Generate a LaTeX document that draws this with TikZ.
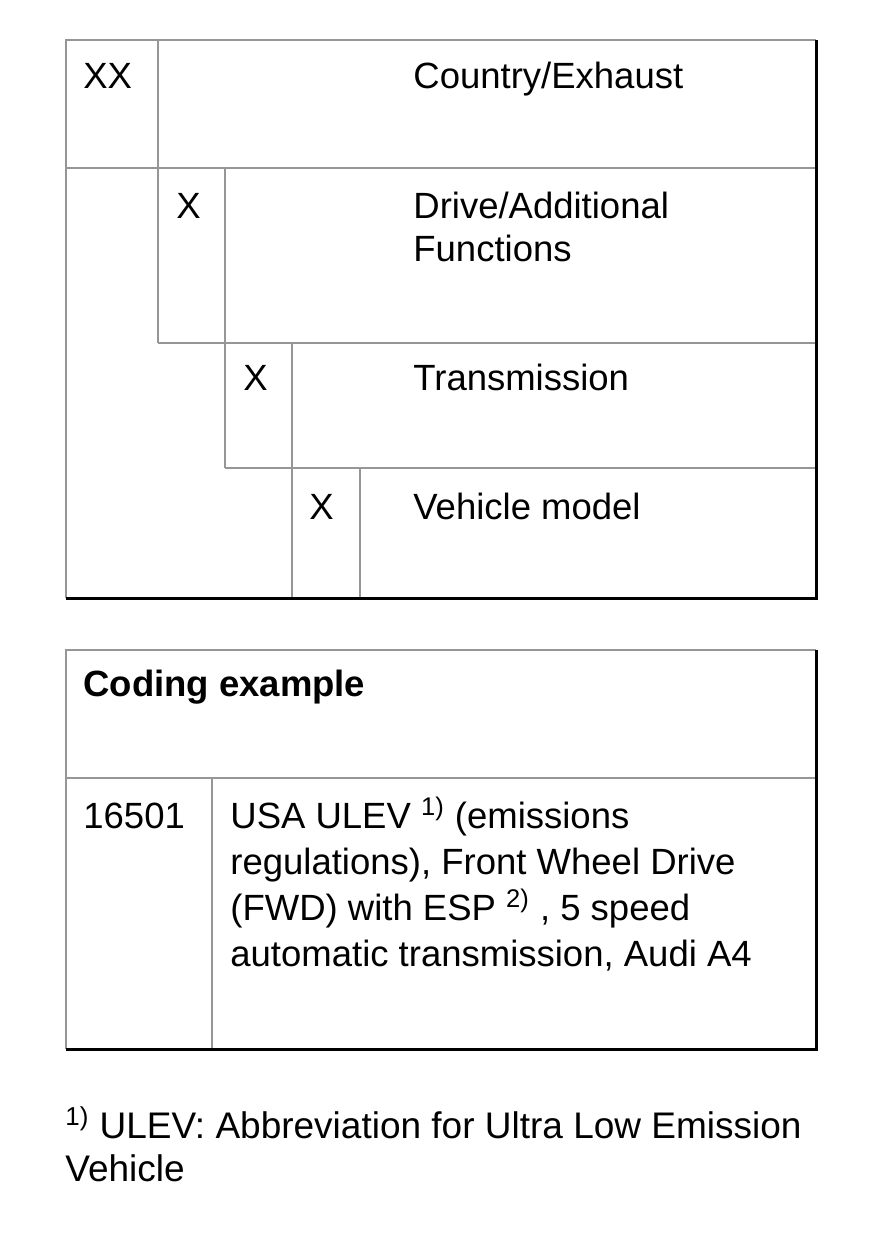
\documentclass[tikz,border=0pt]{standalone}
\usepackage{fontspec}
\setmainfont{Liberation Sans}
\usepackage{xcolor}
\definecolor{gridgray}{RGB}{150,150,150}
\usetikzlibrary{positioning}
\tikzset{
  cell/.style={anchor=base west,inner sep=0pt,align=left,
               font=\fontsize{18.25}{21.5}\selectfont},
  rule/.style={draw=gridgray,line width=0.9pt},
  edge/.style={draw=black,line width=1.5pt},
}

\begin{document}
\begin{tikzpicture}[x=0.5pt,y=-0.5pt,
    wide/.style={cell,font=\fontsize{18.25}{23}\selectfont},
  ]
  \useasboundingbox (0,0) rectangle (880,1250);

  % coding scheme (multi-line nodes sit on their last baseline)
  \draw[rule] (816,40) -- (66,40) -- (66,598);
  \foreach \xl/\y in {66/168,158/343,225/468}{
    \draw[rule] (\xl,\y) -- (816,\y);
  }
  \foreach \x/\ya/\yb in {158/40/343,225/168/468,292/343/598,360/468/598}{
    \draw[rule] (\x,\ya) -- (\x,\yb);
  }
  \draw[edge] (816,40) -- (816,598) -- (66,598);

  \node[cell] (xx) at (83,88)  {XX};
  \node[cell] (ce) at (413,88) {Country/Exhaust};
  \node[cell] (xd) at (176,218) {X};
  \node[cell] (df) at (413,261) {Drive/Additional\\Functions};
  \node[cell] (xt) at (243,390) {X};
  \node[cell] (tr) at (413,390) {Transmission};
  \node[cell] (xv) at (309,519) {X};
  \node[cell] (vm) at (413,519) {Vehicle model};

  % coding example
  \draw[rule] (816,650) -- (66,650) -- (66,1049);
  \draw[rule] (66,778) -- (816,778);
  \draw[rule] (212,778) -- (212,1049);
  \draw[edge] (816,650) -- (816,1049) -- (66,1049);

  \node[cell,font=\fontsize{18.25}{21.5}\selectfont\bfseries] (ex) at (83,696) {Coding example};
  \node[cell] (code) at (83,828) {16501};
  \node[wide] (desc) at (230,966)
    {USA ULEV \textsuperscript{1)} (emissions\\regulations), Front Wheel Drive\\
     (FWD) with ESP \textsuperscript{2)} , 5 speed\\automatic transmission, Audi A4};

  \node[cell,font=\fontsize{18.5}{21.5}\selectfont] (note) at (65,1181)
    {\textsuperscript{1)} ULEV: Abbreviation for Ultra Low Emission\\Vehicle};
\end{tikzpicture}
\end{document}
